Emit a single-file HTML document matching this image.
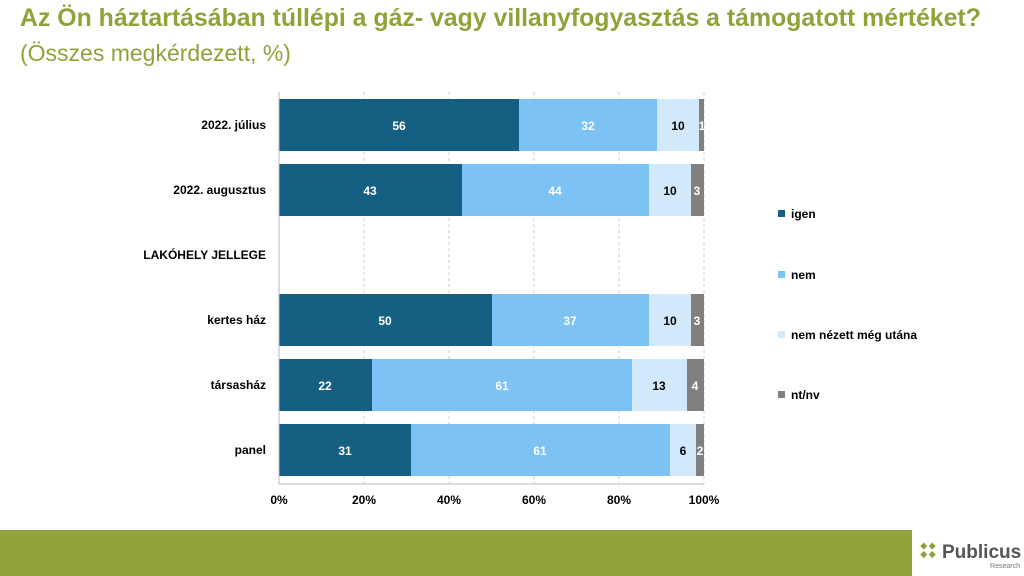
<!DOCTYPE html><html><head><meta charset="utf-8"><style>
body{margin:0;width:1024px;height:576px;background:#fff;overflow:hidden;font-family:"Liberation Sans",sans-serif;position:relative}
.t{position:absolute;left:20px;top:5px;font-size:24.85px;font-weight:bold;color:#8fa33a;white-space:nowrap}
.s{position:absolute;left:20px;top:40px;font-size:23px;color:#8fa33a}
</style></head><body>
<div class="t">Az Ön háztartásában túllépi a gáz- vagy villanyfogyasztás a támogatott mértéket?</div>
<div class="s">(Összes megkérdezett, %)</div>
<svg width="1024" height="576" style="position:absolute;left:0;top:0" font-family="Liberation Sans, sans-serif">
<g stroke="#ccc" stroke-dasharray="3,3"><line x1="364" y1="92" x2="364" y2="484"/><line x1="449" y1="92" x2="449" y2="484"/><line x1="534" y1="92" x2="534" y2="484"/><line x1="619" y1="92" x2="619" y2="484"/><line x1="704" y1="92" x2="704" y2="484"/></g>
<g font-size="12" font-weight="bold" text-anchor="end" fill="#000">
<text x="266" y="129">2022. július</text><text x="266" y="194">2022. augusztus</text><text x="266" y="259">LAKÓHELY JELLEGE</text><text x="266" y="324">kertes ház</text><text x="266" y="389">társasház</text><text x="266" y="454">panel</text></g>
<g font-size="12" font-weight="bold" text-anchor="middle">
<rect x="279" y="99" width="240" height="52" fill="#155f82"/><rect x="519" y="99" width="138" height="52" fill="#7cc2f4"/><rect x="657" y="99" width="42" height="52" fill="#d2e9fb"/><rect x="699" y="99" width="5" height="52" fill="#808080"/>
<text x="399" y="130" fill="#fff">56</text><text x="588" y="130" fill="#fff">32</text><text x="678" y="130">10</text><text x="702" y="130" fill="#fff">1</text>
<rect x="279" y="164" width="183" height="52" fill="#155f82"/><rect x="462" y="164" width="187" height="52" fill="#7cc2f4"/><rect x="649" y="164" width="42" height="52" fill="#d2e9fb"/><rect x="691" y="164" width="13" height="52" fill="#808080"/>
<text x="370" y="195" fill="#fff">43</text><text x="555" y="195" fill="#fff">44</text><text x="670" y="195">10</text><text x="697" y="195" fill="#fff">3</text>
<rect x="279" y="294" width="213" height="52" fill="#155f82"/><rect x="492" y="294" width="157" height="52" fill="#7cc2f4"/><rect x="649" y="294" width="42" height="52" fill="#d2e9fb"/><rect x="691" y="294" width="13" height="52" fill="#808080"/>
<text x="385" y="325" fill="#fff">50</text><text x="570" y="325" fill="#fff">37</text><text x="670" y="325">10</text><text x="697" y="325" fill="#fff">3</text>
<rect x="279" y="359" width="93" height="52" fill="#155f82"/><rect x="372" y="359" width="260" height="52" fill="#7cc2f4"/><rect x="632" y="359" width="55" height="52" fill="#d2e9fb"/><rect x="687" y="359" width="17" height="52" fill="#808080"/>
<text x="325" y="390" fill="#fff">22</text><text x="502" y="390" fill="#fff">61</text><text x="659" y="390">13</text><text x="695" y="390" fill="#fff">4</text>
<rect x="279" y="424" width="132" height="52" fill="#155f82"/><rect x="411" y="424" width="259" height="52" fill="#7cc2f4"/><rect x="670" y="424" width="26" height="52" fill="#d2e9fb"/><rect x="696" y="424" width="8" height="52" fill="#808080"/>
<text x="345" y="455" fill="#fff">31</text><text x="540" y="455" fill="#fff">61</text><text x="683" y="455">6</text><text x="700" y="455" fill="#fff">2</text>
</g>
<line x1="279" y1="92" x2="279" y2="484" stroke="#bbb"/><line x1="279" y1="484" x2="704" y2="484" stroke="#bbb"/>
<g font-size="12" font-weight="bold" text-anchor="middle"><text x="279" y="504">0%</text><text x="364" y="504">20%</text><text x="449" y="504">40%</text><text x="534" y="504">60%</text><text x="619" y="504">80%</text><text x="704" y="504">100%</text></g>
<g font-size="12" font-weight="bold">
<rect x="778" y="210" width="7" height="7" fill="#155f82"/><text x="791" y="218">igen</text>
<rect x="778" y="271" width="7" height="7" fill="#7cc2f4"/><text x="791" y="279">nem</text>
<rect x="778" y="331" width="7" height="7" fill="#d2e9fb"/><text x="791" y="339">nem nézett még utána</text>
<rect x="778" y="391" width="7" height="7" fill="#808080"/><text x="791" y="399">nt/nv</text></g>
<rect x="0" y="530" width="912" height="46" fill="#94a23c"/>
<g fill="#8fa33a" transform="translate(928,551) rotate(45)"><rect x="-9" y="-3" width="5" height="5"/><rect x="-3" y="-9" width="5" height="5"/><rect x="3" y="-3" width="5" height="5"/><rect x="-3" y="3" width="5" height="5"/></g>
<text x="942" y="558" font-size="19" font-weight="bold" fill="#555">Publicus</text>
<text x="1020" y="568" font-size="7" fill="#777" text-anchor="end">Research</text>
</svg>
</body></html>
